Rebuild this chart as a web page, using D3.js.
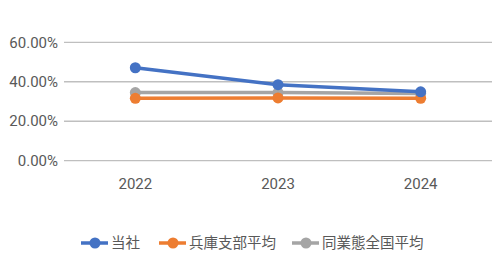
<!DOCTYPE html>
<html lang="ja">
<head>
<meta charset="UTF-8">
<title>chart</title>
<script src="https://cdn.jsdelivr.net/npm/d3@7"></script>
<style>
  body { margin: 0; background: #fff; }
  text { font-family: Roboto, "Noto Sans CJK JP", sans-serif; fill: #595959; }
</style>
</head>
<body>
<div id="chart"></div>
<script>
// data
var years = ["2022", "2023", "2024"];
var seriesNames = ["当社", "兵庫支部平均", "同業態全国平均"];
var seriesColors = ["#4472C4", "#ED7D31", "#A5A5A5"];
var ourValues = [0.471, 0.385, 0.349];
var hyogoValues = [0.316, 0.318, 0.316];
var nationalValues = [0.345, 0.345, 0.340];
var yTicks = [0, 0.2, 0.4, 0.6];

var allValues = [ourValues, hyogoValues, nationalValues];

var W = 504, H = 264;
var margin = { top: 42, right: 12, bottom: 104, left: 64 };

var svg = d3.select("#chart").append("svg")
  .attr("width", W).attr("height", H);

var x = d3.scaleBand().domain(years).range([margin.left, W - margin.right]);
var y = d3.scaleLinear().domain([0, 0.6]).range([H - margin.bottom + 0.7, margin.top + 0.3]);

// gridlines
svg.append("g").selectAll("line").data(yTicks).enter().append("line")
  .attr("x1", margin.left).attr("x2", W - margin.right)
  .attr("y1", function (d) { return y(d); })
  .attr("y2", function (d) { return y(d); })
  .attr("stroke", "#BFBFBF").attr("stroke-width", 1.3);

// y labels
svg.append("g").selectAll("text").data(yTicks).enter().append("text")
  .attr("x", 58).attr("y", function (d) { return y(d); })
  .attr("dy", "0.35em").attr("text-anchor", "end")
  .attr("font-size", 15)
  .text(function (d) { return d3.format(".2%")(d); });

// x labels
svg.append("g").selectAll("text").data(years).enter().append("text")
  .attr("x", function (d) { return x(d) + x.bandwidth() / 2; })
  .attr("y", 188.5).attr("text-anchor", "middle")
  .attr("font-size", 15)
  .text(function (d) { return d; });

var line = d3.line()
  .x(function (d, i) { return x(years[i]) + x.bandwidth() / 2; })
  .y(function (d) { return y(d); });

// draw gray, orange, then blue on top
[2, 1, 0].forEach(function (s) {
  var g = svg.append("g");
  g.append("path").datum(allValues[s])
    .attr("d", line).attr("fill", "none")
    .attr("stroke", seriesColors[s]).attr("stroke-width", 3.5)
    .attr("stroke-linecap", "round");
  g.selectAll("circle").data(allValues[s]).enter().append("circle")
    .attr("cx", function (d, i) { return x(years[i]) + x.bandwidth() / 2; })
    .attr("cy", function (d) { return y(d); })
    .attr("r", 5.5).attr("fill", seriesColors[s]);
});

// legend
var legendX = [81, 159, 292];
var legend = svg.append("g");
seriesNames.forEach(function (name, i) {
  var lg = legend.append("g").attr("transform", "translate(" + legendX[i] + ",243)");
  lg.append("line").attr("x1", 0).attr("x2", 27)
    .attr("stroke", seriesColors[i]).attr("stroke-width", 3.5);
  lg.append("circle").attr("cx", 14).attr("r", 5.5).attr("fill", seriesColors[i]);
  lg.append("text").attr("x", 30).attr("dy", "0.35em")
    .attr("font-size", 14.5).text(name);
});
</script>
</body>
</html>
